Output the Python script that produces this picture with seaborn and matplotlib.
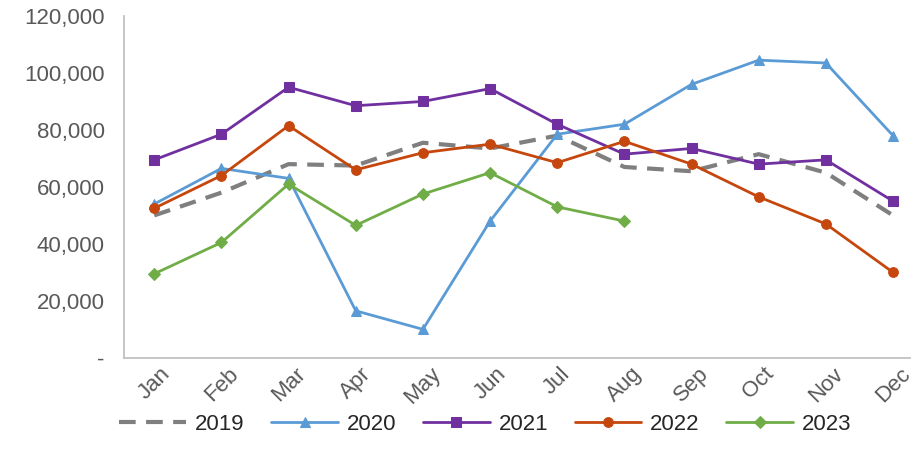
import matplotlib
matplotlib.use("Agg")
import matplotlib.pyplot as plt
import seaborn as sns
import pandas as pd
from matplotlib.ticker import FuncFormatter

months = ["Jan","Feb","Mar","Apr","May","Jun","Jul","Aug","Sep","Oct","Nov","Dec"]
y2019 = [50000,58000,68000,67500,75500,73500,78000,67000,65500,71500,65000,50000]
y2020 = [54000,66500,63000,16500,10000,48000,78500,82000,96000,104500,103500,78000]
y2021 = [69500,78500,95000,88500,90000,94500,82000,71500,73500,68000,69500,55000]
y2022 = [52500,64000,81500,66000,72000,75000,68500,76000,68000,56500,47000,30000]
y2023 = [29500,40500,61000,46500,57500,65000,53000,48000]

sns.set_theme(style="white")
plt.rcParams['font.family'] = ['Liberation Sans', 'DejaVu Sans']
fig, ax = plt.subplots(figsize=(9.19, 4.57), dpi=100)
styles = [
    ("2019", y2019, "#7f7f7f", None, (0, (4, 2.5))),
    ("2020", y2020, "#5b9bd5", "^", "-"),
    ("2021", y2021, "#7030a0", "s", "-"),
    ("2022", y2022, "#c5470e", "o", "-"),
    ("2023", y2023, "#70ad47", "D", "-"),
]
for name, vals, col, mk, ls in styles:
    df = pd.DataFrame({"m": list(range(len(vals))), "v": vals})
    sns.lineplot(data=df, x="m", y="v", ax=ax, color=col, marker=mk, linestyle=ls,
                 linewidth=3 if name == "2019" else 2, markersize=7 if mk != "D" else 6,
                 markeredgecolor=col, label=name)
ax.set_xlim(-0.45, 11.25)
ax.set_ylim(0, 120000)
ax.set_yticks(range(0, 120001, 20000))
ax.yaxis.set_major_formatter(FuncFormatter(lambda v, p: "-" if v == 0 else f"{int(v):,}"))
ax.set_xticks(range(12))
ax.set_xticklabels(months, rotation=45)
ax.tick_params(axis="both", labelsize=16, colors="#595959")
ax.tick_params(axis="y", pad=8)
ax.set_xlabel(""); ax.set_ylabel("")
for s in ["top", "right"]:
    ax.spines[s].set_visible(False)
for s in ["left", "bottom"]:
    ax.spines[s].set_color("#bfbfbf")
ax.tick_params(axis="x", length=5, color="#bfbfbf", direction="in", pad=4)
ax.legend(loc="lower center", bbox_to_anchor=(0.46, -0.285), ncol=5, frameon=False,
          fontsize=16, handlelength=3, columnspacing=1.2, handletextpad=0.4)
plt.subplots_adjust(left=0.135, right=0.99, top=0.965, bottom=0.217)
fig.savefig("out.png", dpi=100)
